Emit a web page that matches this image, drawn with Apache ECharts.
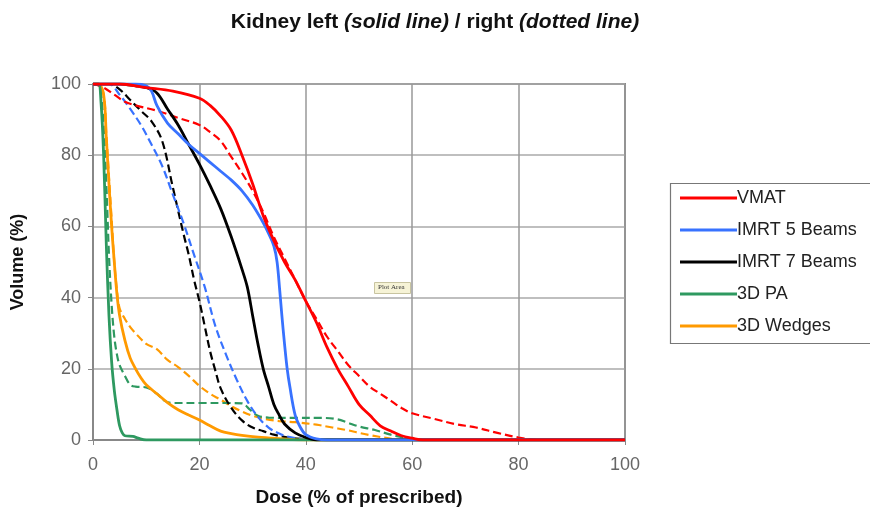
<!DOCTYPE html>
<html>
<head>
    <meta charset="utf-8">
    <script src="https://cdn.jsdelivr.net/npm/echarts@6/dist/echarts.min.js"></script>
</head>
<body style="margin:0">
    <div id="main" style="width: 870px;height:511px;"></div>
    <script type="text/javascript">
        var myChart = echarts.init(document.getElementById('main'));

        // legend names and colours
        var planNames = ['VMAT', 'IMRT 5 Beams', 'IMRT 7 Beams', '3D PA', '3D Wedges'];
        var planColors = ['#ff0000', '#3872ff', '#000000', '#2e9960', '#ff9a00'];
        var xTicks = [0, 20, 40, 60, 80, 100];
        var yTicks = [0, 20, 40, 60, 80, 100];

        // [dose %, volume %] - left kidney (solid)
        var vmatLeft = [[0,100],[5,100],[10,99],[15,98],[20,96],[22,94],[24,91],[26,87],[28,80],[30,72],[32,63],[34,56],[36,50],[38,45],[40,39],[42,33],[44,26],[46,20],[48,15],[50,10],[52,7],[54,4],[56,2.5],[58,1.2],[60,0.5],[62,0],[100,0]];
        var imrt5Left = [[0,100],[8,100],[10,99.5],[11,98],[12,94],[14,89],[16,86],[18,83],[20,80.5],[22,78],[24,75.5],[26,73],[28,70],[30,66],[32,61],[33,58],[34,54.5],[34.6,50],[35.1,42],[35.5,35],[36,27],[36.5,20],[37,15],[38,7],[39,3.5],[40,1.5],[42,0.3],[44,0],[100,0]];
        var imrt7Left = [[0,100],[5,100],[8,99.5],[10,99],[12,97.5],[14,93],[16,88.5],[18,83],[20,77.5],[22,71.5],[24,65],[26,57],[28,48],[29,43],[30,35],[31,27],[32,20],[33,15],[34,10],[35,7],[36,4.5],[38,2],[40,0.7],[42,0],[100,0]];
        var paLeft = [[0,100],[1,100],[1.5,95],[2,80],[2.5,55],[3,35],[3.5,22],[4,14],[4.5,8.5],[5,4],[5.5,2],[6,1.2],[7.5,1],[8.5,0.5],[10,0],[100,0]];
        var wedgesLeft = [[0,100],[1,100],[2,97],[2.5,85],[3,72],[3.5,60],[4,50],[4.5,41],[5,35],[6,28],[7,23],[8,20],[9,17.5],[10,15.5],[12,13],[14,10.5],[16,8.5],[18,7],[20,5.6],[22,4],[24,2.5],[26,1.8],[28,1.3],[31,0.8],[35,0.4],[40,0],[100,0]];

        // right kidney (dotted)
        var vmatRight = [[0,100],[2,99],[4,97],[6,95],[8,94],[12,92.5],[16,90.5],[20,88.5],[22,86.5],[24,84],[26,79.5],[28,75],[30,70],[32,64],[34,57],[36,51],[38,45],[40,39],[42,34],[44,29],[46,25],[48,21],[50,18],[52,15],[54,13],[56,11],[58,9],[60,7.5],[64,6],[68,4.5],[72,3.5],[76,2],[80,0.7],[84,0],[100,0]];
        var imrt5Right = [[0,100],[3,100],[5,97],[7,93],[9,88.5],[11,83],[13,77],[15,69],[17,61],[19,52],[21,43],[23,32],[25,24],[27,17],[29,11],[31,6.5],[33,3.5],[35,1.8],[37,0.8],[40,0.2],[42,0],[100,0]];
        var imrt7Right = [[0,100],[3,100],[5,98.5],[7,95.5],[9,92.5],[11,89.5],[13,84],[15,71],[17,58],[18,52],[19,45],[20,39],[21,32],[22,25],[23,19.5],[24,14.5],[26,9],[28,5.5],[30,3.5],[32,2.5],[34,1.5],[37,0.6],[40,0.2],[42,0],[100,0]];
        var paRight = [[0,100],[1,100],[1.5,97],[2,88],[2.5,72],[3,52],[3.5,38],[4,29],[4.5,24],[5,21],[6,18],[7,15.5],[8,15],[10,14.8],[12,13],[13.5,11],[15,10.4],[20,10.4],[25,10.4],[28,10.3],[29.5,8.5],[31,6.8],[33,6.3],[38,6.2],[43,6.2],[46,5.8],[48,4.8],[50,3.8],[53,2.8],[56,1.5],[58,0.8],[60,0],[100,0]];
        var wedgesRight = [[0,100],[1,100],[2,97],[2.5,86],[3,74],[3.5,62],[4,50],[4.5,42],[5,37],[6,34],[7,31.7],[8,30],[10,27],[12,25.5],[14,22.5],[16,20.5],[18,18],[20,15.2],[22,13],[24,11.3],[26,9.5],[28,8],[30,6.8],[32,6],[35,5.3],[38,5],[42,4.3],[45,3.5],[48,2.7],[50,2],[52,1.4],[55,0.6],[58,0],[100,0]];

        var leftData = [vmatLeft, imrt5Left, imrt7Left, paLeft, wedgesLeft];
        var rightData = [vmatRight, imrt5Right, imrt7Right, paRight, wedgesRight];

        var series = [];
        for (var i = 0; i < planNames.length; i++) {
            series.push({
                name: planNames[i], type: 'line', data: leftData[i],
                showSymbol: false, symbol: 'none', smooth: 0.35,
                lineStyle: { color: planColors[i], width: 2.8 },
                itemStyle: { color: planColors[i] },
                z: 10 - i
            });
        }
        for (var j = 0; j < planNames.length; j++) {
            series.push({
                name: planNames[j], type: 'line', data: rightData[j],
                showSymbol: false, symbol: 'none', smooth: 0.35,
                lineStyle: { color: planColors[j], width: 2.2, type: [8, 4] },
                itemStyle: { color: planColors[j] },
                z: 5 - j
            });
        }

        var option = {
            animation: false,
            backgroundColor: '#ffffff',
            title: {
                left: 430, top: 7, textAlign: 'center',
                text: '{b|Kidney left }{i|(solid line)}{b| / right }{i|(dotted line)}',
                textStyle: {
                    rich: {
                        b: { fontFamily: 'Liberation Sans', fontWeight: 'bold', fontSize: 21, color: '#111' },
                        i: { fontFamily: 'Liberation Sans', fontStyle: 'italic', fontSize: 21, color: '#111' }
                    }
                }
            },
            legend: {
                orient: 'vertical', left: 675, top: 184,
                itemWidth: 57, itemHeight: 18, itemGap: 14,
                icon: 'path://M0,8 L57,8 L57,11 L0,11 Z',
                textStyle: { fontFamily: 'Liberation Sans', fontSize: 18, color: '#222', padding: [0, 0, 0, -5] },
                data: planNames
            },
            graphic: [
                { type: 'rect', left: 668, top: 181, shape: { width: 260, height: 160 },
                  style: { fill: 'none', stroke: '#777', lineWidth: 1.2 } },
                { type: 'rect', left: 374, top: 282, shape: { width: 36, height: 11 },
                  style: { fill: '#f6f3d6', stroke: '#c8c4a0', lineWidth: 1 } },
                { type: 'text', left: 378, top: 284,
                  style: { text: 'Plot Area', fontSize: 7, fontFamily: 'Liberation Serif', fill: '#333' } }
            ],
            grid: {
                left: 93, right: 245, top: 84, bottom: 71,
                outerBoundsMode: 'none', containLabel: false,
                show: true, borderColor: '#888', borderWidth: 2
            },
            xAxis: {
                type: 'value', min: 0, max: 100, interval: 20,
                name: 'Dose (% of prescribed)', nameLocation: 'middle', nameGap: 48,
                nameTextStyle: { fontFamily: 'Liberation Sans', fontWeight: 'bold', fontSize: 19, color: '#111' },
                axisLine: { lineStyle: { color: '#888', width: 2 } },
                axisTick: { show: true, length: 5, lineStyle: { color: '#888' } },
                axisLabel: { fontFamily: 'Liberation Sans', fontSize: 18, color: '#666', margin: 16,
                    formatter: function (v) { return xTicks.indexOf(v) >= 0 ? String(v) : ''; } },
                splitLine: { lineStyle: { color: '#999', width: 1.5 } }
            },
            yAxis: {
                type: 'value', min: 0, max: 100, interval: 20,
                name: 'Volume (%)', nameLocation: 'middle', nameGap: 66,
                nameTextStyle: { fontFamily: 'Liberation Sans', fontWeight: 'bold', fontSize: 18, color: '#111' },
                axisLine: { lineStyle: { color: '#888', width: 2 } },
                axisTick: { show: true, length: 5, lineStyle: { color: '#888' } },
                axisLabel: { fontFamily: 'Liberation Sans', fontSize: 18, color: '#666', margin: 12,
                    formatter: function (v) { return yTicks.indexOf(v) >= 0 ? String(v) : ''; } },
                splitLine: { lineStyle: { color: '#aaa', width: 1.5 } }
            },
            series: series
        };

        myChart.setOption(option);
    </script>
</body>
</html>
